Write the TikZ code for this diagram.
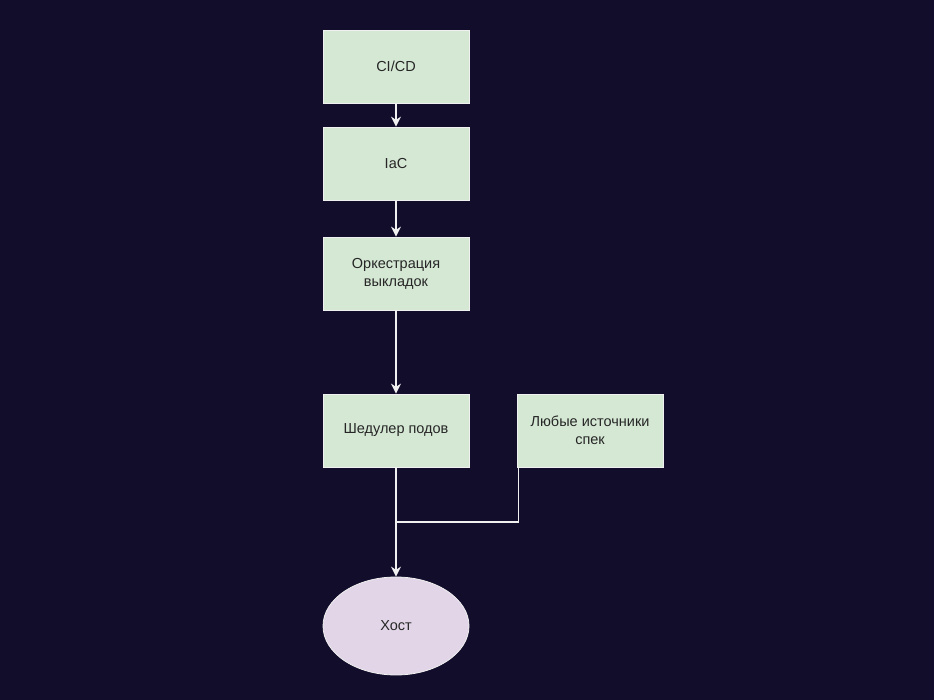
\documentclass[tikz,border=0pt]{standalone}
\usepackage{fontspec}
\setmainfont{Liberation Sans}
\usetikzlibrary{arrows.meta,shapes.geometric,calc}
\definecolor{bg}{HTML}{110D2B}
\definecolor{boxfill}{HTML}{D5E8D4}
\definecolor{hostfill}{HTML}{E1D5E7}
\definecolor{edge}{HTML}{F0F0F0}
\begin{document}
\begin{tikzpicture}[x=1pt,y=-1pt,
  box/.style={draw=edge,line width=0.8pt,fill=boxfill,minimum width=146pt,minimum height=73pt,inner sep=2pt,align=center,font=\fontsize{14.5}{18}\selectfont,text=black!85},
  hoststyle/.style={ellipse,draw=edge,line width=0.8pt,fill=hostfill,minimum width=146pt,minimum height=98pt,font=\fontsize{14.5}{18}\selectfont,text=black!85},
  conn/.style={draw=edge,line width=1.2pt},
  arr/.style={conn,-{Stealth[length=10pt,width=10pt]}}]
\fill[bg] (0,0) rectangle (934,700);
\useasboundingbox (0,0) rectangle (934,700);
\node[box] (cicd) at (396,66.5) {CI/CD};
\node[box] (iac) at (396,163.5) {IaC};
\node[box] (orch) at (396,273.5) {Оркестрация\\выкладок};
\node[box] (sched) at (396,430.5) {Шедулер подов};
\node[box] (lyub) at (590,430.5) {Любые источники\\спек};
\node[hoststyle] (host) at (396,626) {Хост};
\coordinate (j) at (396,522);
\draw[arr] (cicd) -- (iac);
\draw[arr] (iac) -- (orch);
\draw[arr] (orch) -- (sched);
\draw[arr] (sched) -- (host);
\draw[conn] ([xshift=2pt]lyub.south west) |- (j);
\end{tikzpicture}
\end{document}
